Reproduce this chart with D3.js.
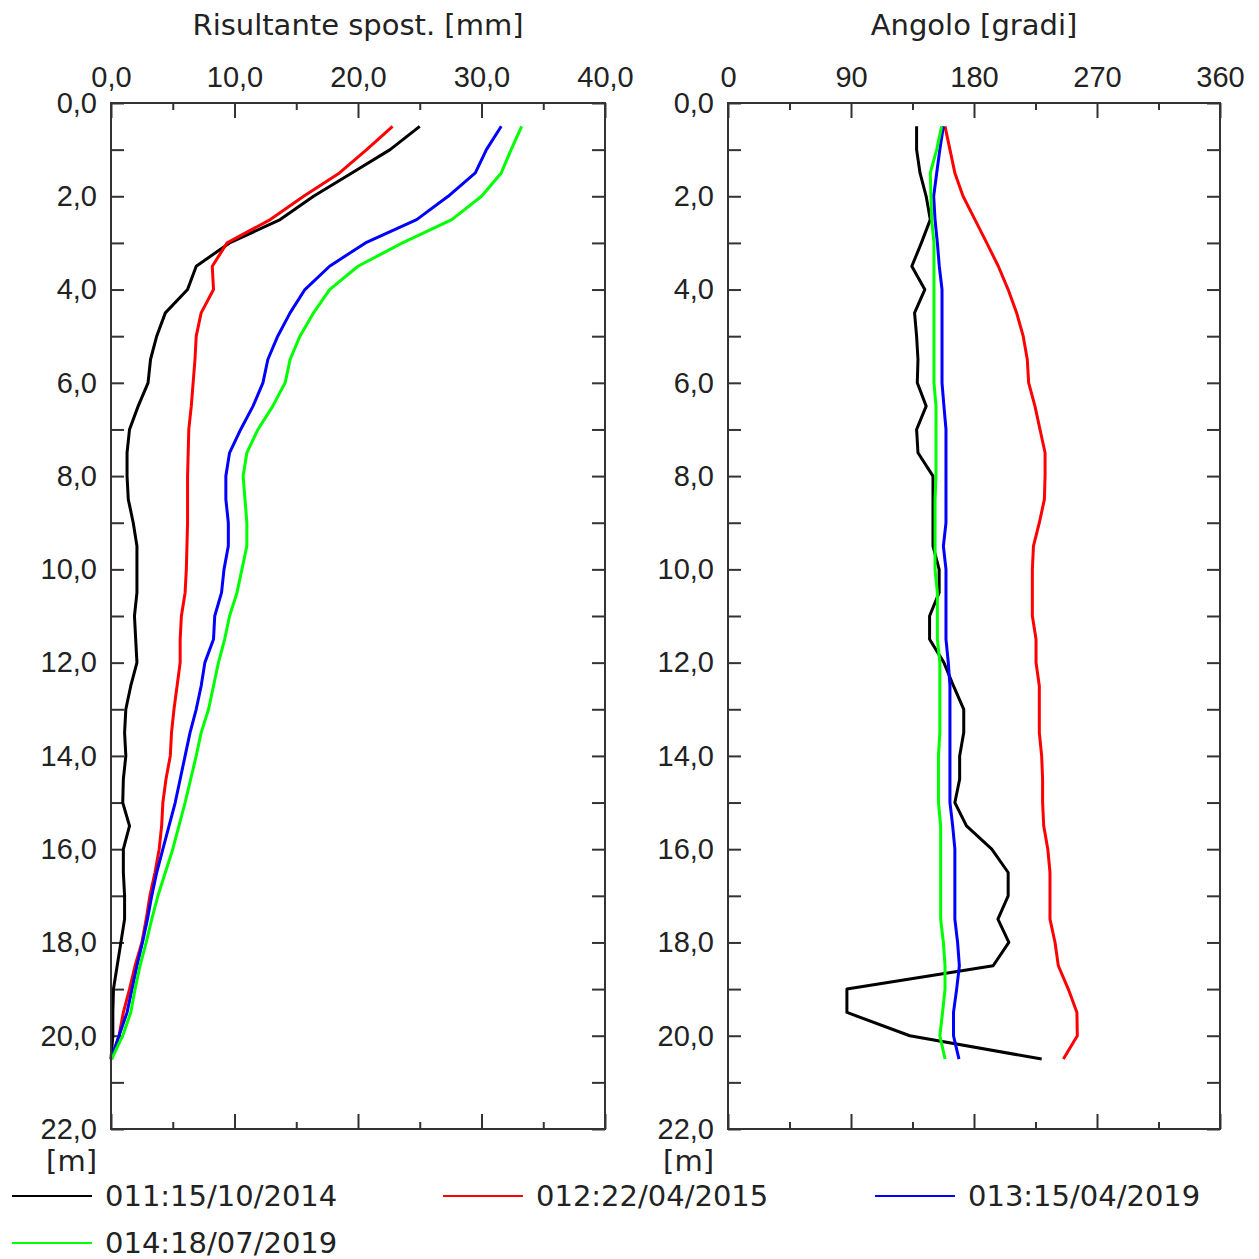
<!DOCTYPE html>
<html>
<head>
<meta charset="utf-8">
<script src="https://cdn.jsdelivr.net/npm/d3@7"></script>
<style>
  body { margin: 0; background: #fff; }
  svg { font-family: "DejaVu Sans", Verdana, sans-serif; }
  .axis text { font-size: 29px; fill: #222; }
  .axis path { display: none; }
  .axis line { stroke: #333; stroke-width: 2px; }
  .frame { fill: none; stroke: #333; stroke-width: 2px; }
  .line { fill: none; stroke-width: 3px; stroke-linejoin: round; }
  .title, .unit, .legend text { font-size: 29px; fill: #222; }
</style>
</head>
<body>
<svg id="chart" width="1259" height="1259"></svg>
<script>

/*    ========    DATA    =========    */

var depths = [0.5, 1.0, 1.5, 2.0, 2.5, 3.0, 3.5, 4.0, 4.5, 5.0, 5.5, 6.0, 6.5, 7.0,
              7.5, 8.0, 8.5, 9.0, 9.5, 10.0, 10.5, 11.0, 11.5, 12.0, 12.5, 13.0, 13.5,
              14.0, 14.5, 15.0, 15.5, 16.0, 16.5, 17.0, 17.5, 18.0, 18.5, 19.0, 19.5,
              20.0, 20.5];

var seriesNames = ["011:15/10/2014", "012:22/04/2015", "013:15/04/2019", "014:18/07/2019"];
var seriesColors = ["#000000", "#ff0000", "#0000ff", "#00ff00"];

// Risultante spostamento [mm]
var disp011 = [25.0, 22.6, 19.5, 16.4, 13.7, 9.6, 6.9, 6.2, 4.4, 3.7, 3.2, 3.0, 2.2, 1.5,
               1.3, 1.3, 1.4, 1.8, 2.1, 2.1, 2.1, 1.9, 2.0, 2.1, 1.6, 1.2, 1.1,
               1.2, 1.0, 0.95, 1.5, 1.0, 1.0, 1.1, 1.1, 0.8, 0.5, 0.2, 0.15,
               0.15, 0.0];
var disp012 = [22.8, 20.7, 18.5, 15.6, 12.9, 9.4, 8.2, 8.3, 7.3, 6.9, 6.8, 6.65, 6.5, 6.3,
               6.25, 6.2, 6.2, 6.2, 6.15, 6.1, 6.0, 5.7, 5.6, 5.6, 5.35, 5.1, 4.9,
               4.8, 4.45, 4.2, 4.1, 3.9, 3.56, 3.15, 2.85, 2.5, 1.95, 1.5, 1.0,
               0.65, 0.05];
var disp013 = [31.6, 30.4, 29.5, 27.3, 24.75, 20.6, 17.7, 15.7, 14.5, 13.5, 12.7, 12.3, 11.5, 10.5,
               9.6, 9.3, 9.3, 9.5, 9.5, 9.15, 8.95, 8.4, 8.3, 7.6, 7.3, 6.9, 6.4,
               6.0, 5.6, 5.2, 4.7, 4.2, 3.7, 3.3, 2.95, 2.55, 2.1, 1.7, 1.3,
               0.65, 0.0];
var disp014 = [33.25, 32.4, 31.6, 30.0, 27.6, 23.6, 20.0, 17.7, 16.4, 15.3, 14.5, 14.1, 13.1, 11.9,
               11.0, 10.7, 10.85, 11.0, 11.0, 10.6, 10.2, 9.6, 9.2, 8.7, 8.3, 7.9, 7.3,
               6.9, 6.45, 6.0, 5.5, 5.0, 4.4, 3.8, 3.3, 2.85, 2.35, 1.95, 1.6,
               0.95, 0.05];

// Angolo [gradi]
var ang011 = [138, 138, 140.5, 145, 148, 141.5, 134.5, 144, 136.5, 138, 139, 138.5, 145, 138,
              139, 150, 150, 150, 150, 154.5, 154.5, 147.5, 147.5, 158, 165, 172.5, 172.5,
              169.5, 169.5, 166, 174.5, 193, 205, 205, 197.5, 205.5, 194, 87, 87,
              133, 229.5];
var ang012 = [158.8, 162.4, 166, 172, 180.7, 189.3, 197.8, 205, 211.2, 216, 219, 220, 224.6, 228.3,
              232, 232, 231.5, 227.8, 223.5, 222.7, 222.7, 222.7, 225.4, 225.4, 227.8, 227.8, 227.8,
              229.5, 230.2, 230.2, 231, 234, 235.6, 235.6, 235.6, 239.3, 241.7, 249, 255.3,
              255.6, 245.4];
var ang013 = [157.6, 155, 152.7, 150.5, 151.5, 153.2, 154.6, 156.6, 156.6, 156.6, 156.6, 156.6, 158, 159.5,
              159.5, 159.5, 159.5, 159.5, 157.6, 159.5, 159.5, 159.5, 159.5, 161.2, 162.4, 162.4, 162.4,
              162.4, 162.4, 162.4, 164.4, 166, 166, 166, 166, 168, 169.3, 167.3, 165,
              165, 169];
var ang014 = [156.3, 152.7, 148, 148.5, 149, 150.7, 150.7, 150.7, 150.7, 150.7, 150.7, 150.7, 152.2, 152.2,
              152.2, 152.2, 151.5, 151.5, 151.5, 151.5, 153.2, 153.2, 153.2, 155, 155, 155, 155,
              154, 154, 154, 155.6, 155.6, 155.6, 155.6, 155.6, 157.6, 158.8, 158.8, 157,
              155, 158.8];

var dispSeries = [disp011, disp012, disp013, disp014];
var angSeries = [ang011, ang012, ang013, ang014];

var depthTicks = [0, 1, 2, 3, 4, 5, 6, 7, 8, 9, 10, 11, 12, 13, 14, 15, 16, 17, 18, 19, 20, 21, 22];
var dispMajor = [0, 10, 20, 30, 40];
var dispMinor = [5, 15, 25, 35];
var angMajor = [0, 90, 180, 270, 360];
var angMinor = [45, 135, 225, 315];

/*    ========    SETTINGS    =========    */

var svg = d3.select("#chart");

var TOP = 103, BOTTOM = 1129;
var PANELS = [
    { x0: 111, x1: 605, domain: [0, 40], major: dispMajor, minor: dispMinor,
      data: dispSeries, title: "Risultante spost. [mm]", decimals: true },
    { x0: 728, x1: 1220, domain: [0, 360], major: angMajor, minor: angMinor,
      data: angSeries, title: "Angolo [gradi]", decimals: false }
];

var locale = d3.formatLocale({ decimal: ",", thousands: ".", grouping: [3], currency: ["", "€"] });
var fmt1 = locale.format(".1f");
var fmt0 = locale.format("d");

var scale_y = d3.scaleLinear().domain([0, 22]).range([TOP, BOTTOM]);

/*    ========    DRAW    =========    */

function drawPanel(p) {
    var sx = d3.scaleLinear().domain(p.domain).range([p.x0, p.x1]);
    var fmtX = p.decimals ? fmt1 : fmt0;

    // title
    svg.append("text")
        .attr("class", "title")
        .attr("x", (p.x0 + p.x1) / 2)
        .attr("y", 35)
        .attr("text-anchor", "middle")
        .text(p.title);

    // top axis, major with labels
    svg.append("g")
        .attr("class", "axis")
        .attr("transform", "translate(0," + TOP + ")")
        .call(d3.axisTop(sx).tickValues(p.major).tickSize(-15).tickPadding(16).tickFormat(fmtX));
    svg.append("g")
        .attr("class", "axis")
        .attr("transform", "translate(0," + TOP + ")")
        .call(d3.axisTop(sx).tickValues(p.minor).tickSize(-7).tickFormat(""));

    // bottom axis
    svg.append("g")
        .attr("class", "axis")
        .attr("transform", "translate(0," + BOTTOM + ")")
        .call(d3.axisBottom(sx).tickValues(p.major).tickSize(-15).tickFormat(""));
    svg.append("g")
        .attr("class", "axis")
        .attr("transform", "translate(0," + BOTTOM + ")")
        .call(d3.axisBottom(sx).tickValues(p.minor).tickSize(-7).tickFormat(""));

    // left depth axis
    svg.append("g")
        .attr("class", "axis")
        .attr("transform", "translate(" + p.x0 + ",0)")
        .call(d3.axisLeft(scale_y).tickValues(depthTicks).tickSize(-13).tickPadding(14)
            .tickFormat(function(d) { return d % 2 === 0 ? fmt1(d) : ""; }));

    // right depth axis
    svg.append("g")
        .attr("class", "axis")
        .attr("transform", "translate(" + p.x1 + ",0)")
        .call(d3.axisRight(scale_y).tickValues(depthTicks).tickSize(-13).tickFormat(""));

    // unit label
    svg.append("text")
        .attr("class", "unit")
        .attr("x", p.x0 - 14)
        .attr("y", 1171)
        .attr("text-anchor", "end")
        .text("[m]");

    // lines
    var line = d3.line()
        .x(function(d) { return sx(d[0]); })
        .y(function(d) { return scale_y(d[1]); });

    p.data.forEach(function(values, i) {
        var pts = values.map(function(v, k) { return [v, depths[k]]; });
        svg.append("path")
            .datum(pts)
            .attr("class", "line")
            .attr("stroke", seriesColors[i])
            .attr("d", line);
    });

    // frame
    svg.append("rect")
        .attr("class", "frame")
        .attr("x", p.x0)
        .attr("y", TOP)
        .attr("width", p.x1 - p.x0)
        .attr("height", BOTTOM - TOP);
}

PANELS.forEach(drawPanel);

// legend
var legendPos = [[12, 1196], [443, 1196], [875, 1196], [12, 1243]];
var legend = svg.append("g").attr("class", "legend");
seriesNames.forEach(function(name, i) {
    var g = legend.append("g")
        .attr("transform", "translate(" + legendPos[i][0] + "," + legendPos[i][1] + ")");
    g.append("line")
        .attr("x1", 0).attr("x2", 80)
        .attr("y1", 0).attr("y2", 0)
        .attr("stroke", seriesColors[i])
        .attr("stroke-width", 2);
    g.append("text")
        .attr("x", 93)
        .attr("y", 0)
        .attr("dy", "0.35em")
        .text(name);
});

</script>
</body>
</html>
